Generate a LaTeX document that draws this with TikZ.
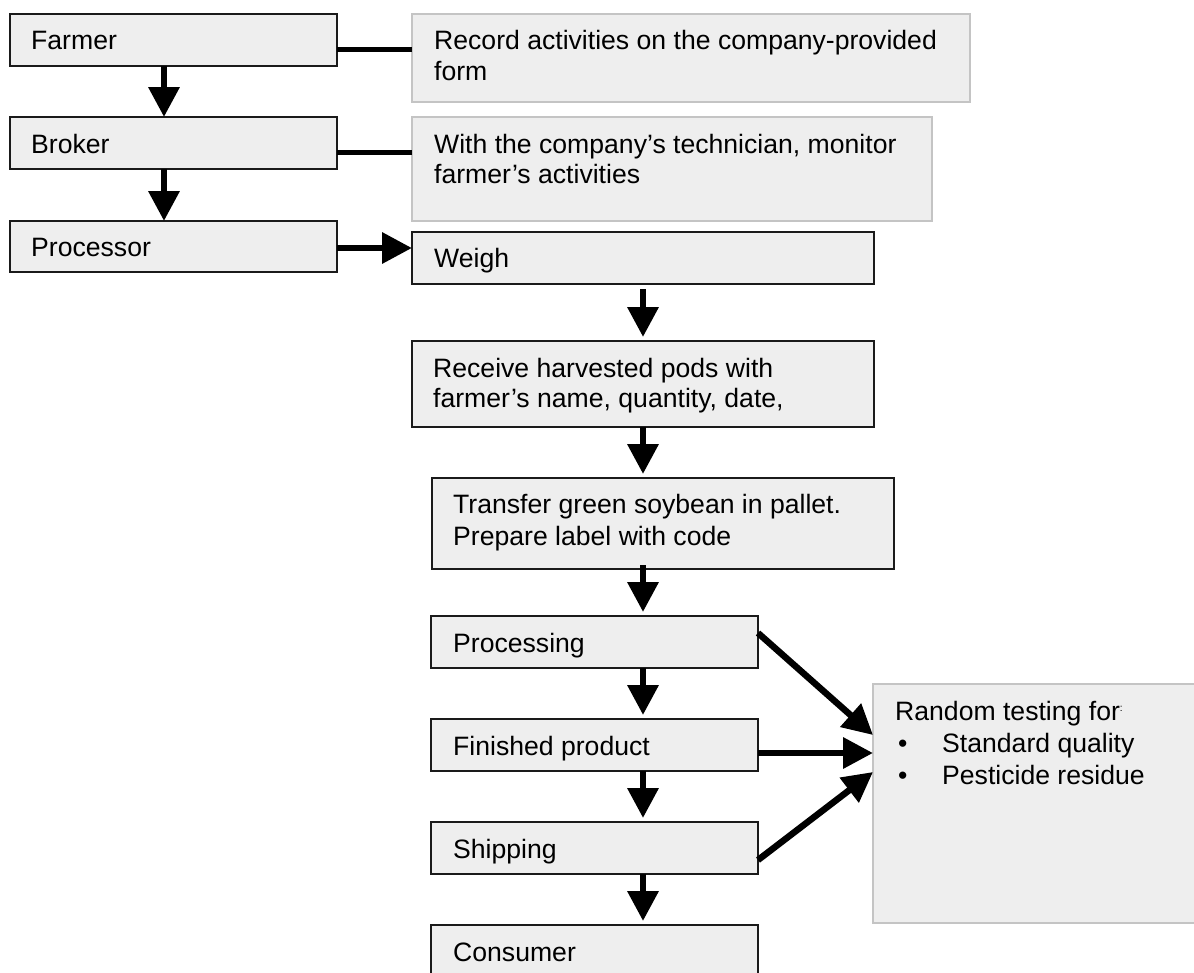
\documentclass[tikz,border=0pt]{standalone}
\usepackage{fontspec}
\setmainfont{Liberation Sans}
\usetikzlibrary{arrows.meta,calc,fit}
\definecolor{boxfill}{HTML}{EEEEEE}
\definecolor{graybd}{HTML}{C4C4C4}
\definecolor{darkbd}{HTML}{1A1A1A}
\begin{document}
\begin{tikzpicture}[x=1pt,y=-1pt,
  blackbox/.style={draw=darkbd, line width=2pt, fill=boxfill, inner sep=0pt, outer sep=0pt},
  graybox/.style={draw=graybd, line width=2pt, fill=boxfill, inner sep=0pt, outer sep=0pt},
  txt/.style={inner sep=0pt, anchor=base west, font=\fontsize{26.6}{31}\selectfont},
  link/.style={line width=5pt},
  arr/.style={line width=6.5pt, -{Triangle[length=30pt,width=30pt]}},
]
\useasboundingbox[fill=white] (0,0) rectangle (1194,972);

% boxes
\node[blackbox, fit={(10,14) (337,66)}] (farmer) {};
\node[blackbox, fit={(10,117) (337,169)}] (broker) {};
\node[blackbox, fit={(10,221) (337,272)}] (processor) {};
\node[graybox, fit={(412,14) (970,102)}] (record) {};
\node[graybox, fit={(412,117) (932,221)}] (with) {};
\node[blackbox, fit={(412,232) (874,284)}] (weigh) {};
\node[blackbox, fit={(412,341) (874,427)}] (receive) {};
\node[blackbox, fit={(432,478) (894,569)}] (transfer) {};
\node[blackbox, fit={(431,616) (758,668)}] (processing) {};
\node[blackbox, fit={(431,719) (758,771)}] (finished) {};
\node[blackbox, fit={(431,822) (758,874)}] (shipping) {};
\node[blackbox, fit={(431,925) (758,995)}] (consumer) {};
\node[graybox, fit={(873,684) (1215,923)}] (random) {};

% texts
\node[txt] (tFarmer) at (31,49) {Farmer};
\node[txt] (tBroker) at (31,153) {Broker};
\node[txt] (tProcessor) at (31,256) {Processor};
\node[txt] (tRecordA) at (434,49) {Record activities on the company-provided};
\node[txt] (tRecordB) at (434,80) {form};
\node[txt] (tWithA) at (434,153) {With the company’s technician, monitor};
\node[txt] (tWithB) at (434,183) {farmer’s activities};
\node[txt] (tWeigh) at (434,267) {Weigh};
\node[txt] (tReceiveA) at (433,377) {Receive harvested pods with};
\node[txt] (tReceiveB) at (433,407) {farmer’s name, quantity, date,};
\node[txt] (tTransferA) at (453,513) {Transfer green soybean in pallet.};
\node[txt] (tTransferB) at (453,545) {Prepare label with code};
\node[txt] (tProcessing) at (453,652) {Processing};
\node[txt] (tFinished) at (453,755) {Finished product};
\node[txt] (tShipping) at (453,858) {Shipping};
\node[txt] (tConsumer) at (453,961) {Consumer};
\node[txt] (tRandom) at (895,720) {Random testing for{\fontsize{10}{10}\selectfont\raisebox{9pt}{:}}};
\node[txt] (tBulA) at (898,752) {•};
\node[txt] (tStd) at (942,752) {Standard quality};
\node[txt] (tBulB) at (898,784) {•};
\node[txt] (tPest) at (942,784) {Pesticide residue};

% side links
\draw[link] ([yshift=-9pt]farmer.east) -- ([yshift=-9pt]farmer.east -| record.west);
\draw[link] ([yshift=-9pt]broker.east) -- ([yshift=-9pt]broker.east -| with.west);
\draw[arr] ([yshift=-1.5pt]processor.east) -- ([yshift=-1.5pt]processor.east -| weigh.west);

% left column
\draw[arr] ([xshift=-9.5pt]farmer.south) -- ([xshift=-9.5pt]farmer.south |- broker.north);
\draw[arr] ([xshift=-9.5pt]broker.south) -- ([xshift=-9.5pt]broker.south |- processor.north);

% right column
\draw[arr, shorten <=5pt, shorten >=4pt] (weigh.south) -- (weigh.south |- receive.north);
\draw[arr, shorten >=4pt] (weigh.south |- receive.south) -- (weigh.south |- transfer.north);
\draw[arr, shorten <=-4pt, shorten >=4pt] (weigh.south |- transfer.south) -- (weigh.south |- processing.north);
\draw[arr, shorten >=4pt] (weigh.south |- processing.south) -- (weigh.south |- finished.north);
\draw[arr, shorten >=4pt] (weigh.south |- finished.south) -- (weigh.south |- shipping.north);
\draw[arr, shorten >=4pt] (weigh.south |- shipping.south) -- (weigh.south |- consumer.north);

% to random testing
\draw[arr] ([yshift=9pt]processing.east) -- ([yshift=-51pt]random.north west);
\draw[arr] ([yshift=-8pt]finished.east) -- ([yshift=-69pt]random.north west);
\draw[arr] ([yshift=-12pt]shipping.east) -- ([yshift=-88pt]random.north west);
\end{tikzpicture}
\end{document}
